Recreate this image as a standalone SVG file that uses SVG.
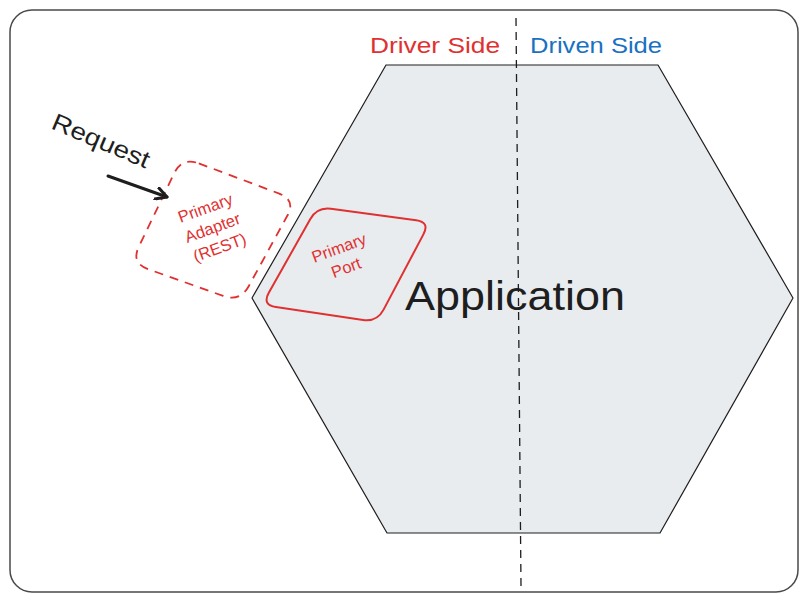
<svg xmlns="http://www.w3.org/2000/svg" width="809" height="603" viewBox="0 0 809 603">
<defs>
<style>
.t{font-family:"Liberation Sans",Arial,sans-serif;}
.red{fill:#e03131;}
.blue{fill:#1971c2;}
.blk{fill:#1e1e1e;}
.small{font-size:16.5px;text-anchor:middle;dominant-baseline:middle;}
</style>
<marker id="ah" viewBox="0 0 14 14" refX="12" refY="7" markerWidth="14" markerHeight="14" markerUnits="userSpaceOnUse" orient="auto">
<path d="M1,1 L12,7 L1,13" fill="none" stroke="#1e1e1e" stroke-width="3" stroke-linecap="round" stroke-linejoin="round"/>
</marker>
</defs>
<rect width="809" height="603" fill="#ffffff"/>
<g id="frame">
<rect x="10" y="10" width="788" height="582" rx="22" fill="none" stroke="#4a4a4a" stroke-width="1.5"/>
</g>
<g id="application">
<polygon points="386,65 658,65 793,298 660,533 387,533 252,298" fill="#e9ecef" stroke="#1e1e1e" stroke-width="1.2" stroke-linejoin="round"/>
<text class="t blk" x="405" y="310" font-size="40" textLength="220" lengthAdjust="spacingAndGlyphs">Application</text>
</g>
<g id="divider">
<line x1="516" y1="18" x2="521" y2="586" stroke="#1e1e1e" stroke-width="1.3" stroke-dasharray="8,6"/>
</g>
<g id="driver-side">
<text class="t red" x="370" y="53" font-size="22" textLength="130" lengthAdjust="spacingAndGlyphs">Driver Side</text>
</g>
<g id="driven-side">
<text class="t blue" x="530" y="53" font-size="22" textLength="132" lengthAdjust="spacingAndGlyphs">Driven Side</text>
</g>
<g id="primary-adapter">
<path d="M198.8,163.4 L279.2,193.6 Q296,200 287.3,215.8 L248.7,286.2 Q240,302 223.1,295.9 L147.9,269.1 Q131,263 138.8,246.8 L174.2,173.2 Q182,157 198.8,163.4 Z" fill="none" stroke="#e03131" stroke-width="1.8" stroke-dasharray="9,7"/>
<g transform="translate(213,229) rotate(-20)">
<text class="t red small" x="0" y="-21">Primary</text>
<text class="t red small" x="0" y="0">Adapter</text>
<text class="t red small" x="0" y="21">(REST)</text>
</g>
</g>
<g id="primary-port">
<path d="M330.9,208.8 L416.1,220.2 Q430,222 423.4,234.4 L383.6,309.6 Q377,322 363.1,320 L275.9,307 Q262,305 268.8,292.8 L310.2,219.2 Q317,207 330.9,208.8 Z" fill="none" stroke="#e03131" stroke-width="2"/>
<g transform="translate(343,259) rotate(-20)">
<text class="t red small" x="0" y="-10.5">Primary</text>
<text class="t red small" x="0" y="10.5">Port</text>
</g>
</g>
<g id="request">
<text class="t blk" transform="translate(50,128) rotate(23)" font-size="24" textLength="104" lengthAdjust="spacingAndGlyphs">Request</text>
</g>
<g id="connectors">
<line x1="108" y1="176" x2="167" y2="197" stroke="#1e1e1e" stroke-width="3" stroke-linecap="round" marker-end="url(#ah)"/>
</g>
</svg>
